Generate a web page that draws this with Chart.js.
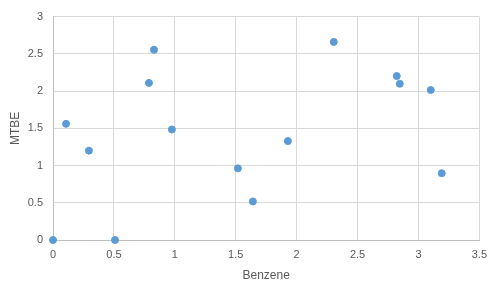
<!DOCTYPE html>
<html>
<head>
<meta charset="utf-8">
<script src="https://cdn.jsdelivr.net/npm/chart.js@4/dist/chart.umd.min.js"></script>
<style>
  html, body { margin: 0; padding: 0; background: #fff; }
  #wrap { width: 495px; height: 294px; }
</style>
</head>
<body>
<div id="wrap"><canvas id="myChart" width="495" height="294"></canvas></div>
<script>
// Benzene vs MTBE
const benzene = [0, 0.107, 0.295, 0.509, 0.788, 0.829, 0.976, 1.518, 1.641, 1.928, 2.305, 2.822, 2.847, 3.101, 3.191];
const mtbe = [0, 1.56, 1.2, 0, 2.11, 2.555, 1.484, 0.962, 0.518, 1.328, 2.66, 2.202, 2.098, 2.014, 0.897];
const xTicks = [0, 0.5, 1, 1.5, 2, 2.5, 3, 3.5];
const yTicks = [0, 0.5, 1, 1.5, 2, 2.5, 3];

let points = [];
for (let i = 0; i < benzene.length; i++) {
  points.push({ x: benzene[i], y: mtbe[i] });
}

const labelFont = { family: "'Liberation Sans', Arial, sans-serif", size: 11 };
const titleFont = { family: "'Liberation Sans', Arial, sans-serif", size: 12 };
const gridColor = "#d9d9d9";
const textColor = "#595959";

function fmt(v) {
  return String(v);
}

const ctx = document.getElementById("myChart").getContext("2d");
const myChart = new Chart(ctx, {
  type: "scatter",
  data: {
    datasets: [
      {
        label: "MTBE",
        data: points,
        backgroundColor: "#5b9bd5",
        borderColor: "#5b9bd5",
        pointRadius: 3.5,
        pointHoverRadius: 3.5,
        clip: false,
      },
    ],
  },
  options: {
    responsive: false,
    animation: false,
    events: [],
    layout: { padding: { left: 0, right: 15, top: 10, bottom: 0 } },
    plugins: {
      legend: { display: false },
      tooltip: { enabled: false },
    },
    scales: {
      x: {
        type: "linear",
        min: 0,
        max: 3.5,
        afterBuildTicks: (scale) => {
          scale.ticks = xTicks.map((v) => ({ value: v }));
        },
        afterFit: (scale) => {
          scale.height = 54;
        },
        ticks: { color: textColor, font: labelFont, padding: 8, maxRotation: 0, callback: fmt },
        grid: { color: gridColor, drawTicks: false },
        border: { color: "#bfbfbf" },
        title: {
          display: true,
          text: "Benzene",
          color: textColor,
          font: titleFont,
          padding: { top: 0, bottom: 11 },
        },
      },
      y: {
        type: "linear",
        min: 0,
        max: 3,
        afterBuildTicks: (scale) => {
          scale.ticks = yTicks.map((v) => ({ value: v }));
        },
        afterFit: (scale) => {
          scale.width = 53;
        },
        ticks: { color: textColor, font: labelFont, padding: 10, callback: fmt },
        grid: { color: gridColor, drawTicks: false },
        border: { color: "#bfbfbf" },
        title: {
          display: true,
          text: "MTBE",
          color: textColor,
          font: titleFont,
          padding: { top: 8, bottom: 0 },
        },
      },
    },
  },
});
</script>
</body>
</html>
